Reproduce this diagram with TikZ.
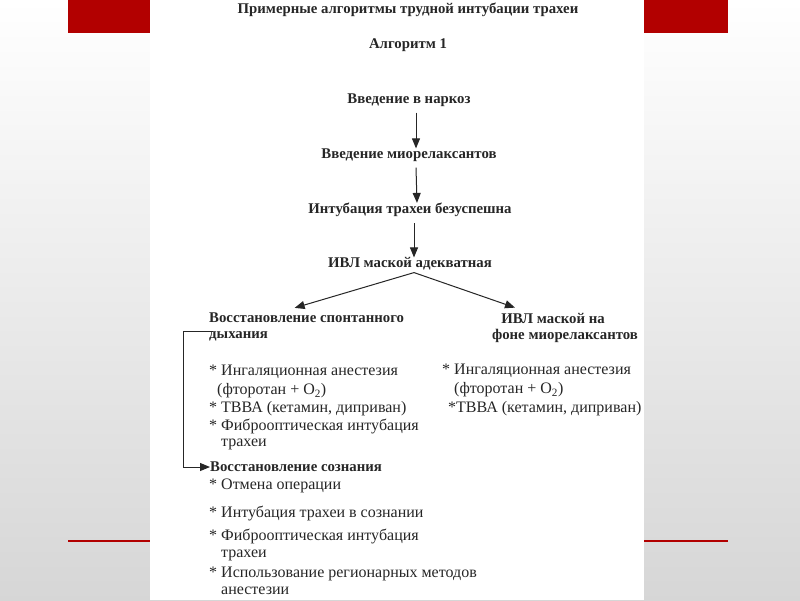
\documentclass[tikz,border=0pt]{standalone}
\usepackage{fontspec}
\setmainfont{Liberation Serif}
\usetikzlibrary{arrows.meta}
\begin{document}
\begin{tikzpicture}[x=1pt,y=-1pt,
  txt/.style={inner sep=0pt, font=\fontsize{16}{18}\selectfont, text=black!85},
  hd/.style={inner sep=0pt, font=\fontsize{14.8}{17}\bfseries\selectfont, text=black!85},
  conn/.style={line width=1pt, draw=black!85, -{Triangle[length=10pt,width=8pt]}},
  plain/.style={line width=1pt, draw=black!85}]
\useasboundingbox (0,0) rectangle (800,600);
\shade[top color=white, bottom color=black!16] (0,0) rectangle (800,600);
\fill[red!70!black] (68,0) rectangle (728,33);
\fill[red!70!black] (68,539.5) rectangle (728,541.5);
\fill[white] (150,0) rectangle (644,600);
% headings
\node[hd] (title) at (408,10) {Примерные алгоритмы трудной интубации трахеи};
\node[hd] (alg) at (408,45) {Алгоритм 1};
\node[hd] (n1) at (409,100) {Введение в наркоз};
\node[hd] (n2) at (409,155) {Введение миорелаксантов};
\node[hd] (n3) at (410,210) {Интубация трахеи безуспешна};
\node[hd] (n4) at (410,264) {ИВЛ маской адекватная};
\node[hd,anchor=west] (l1) at (209,318) {Восстановление спонтанного};
\node[hd,anchor=west] (l2) at (209,336) {дыхания};
\node[hd] (r1) at (553,318) {ИВЛ маской на};
\node[hd] (r2) at (565,336) {фоне миорелаксантов};
% left list
\node[txt,anchor=west] (la) at (209,372) {* Ингаляционная анестезия};
\node[txt,anchor=west] (lb) at (217,391) {(фторотан + O\textsubscript{2})};
\node[txt,anchor=west] (lc) at (209,409) {* ТВВА (кетамин, диприван)};
\node[txt,anchor=west] (ld) at (209,426) {* Фиброоптическая интубация};
\node[txt,anchor=west] (le) at (221,444) {трахеи};
% right list
\node[txt,anchor=west] (ra) at (442,371) {* Ингаляционная анестезия};
\node[txt,anchor=west] (rb) at (454,390) {(фторотан + O\textsubscript{2})};
\node[txt,anchor=west] (rc) at (448,409) {*ТВВА (кетамин, диприван)};
% consciousness
\node[hd,anchor=west] (s0) at (210,467) {Восстановление сознания};
\node[txt,anchor=west] (s1) at (209,486) {* Отмена операции};
\node[txt,anchor=west] (s2) at (209,513) {* Интубация трахеи в сознании};
\node[txt,anchor=west] (s3) at (209,536) {* Фиброоптическая интубация};
\node[txt,anchor=west] (s4) at (221,555) {трахеи};
\node[txt,anchor=west] (s5) at (209,574) {* Использование регионарных методов};
\node[txt,anchor=west] (s6) at (221,591) {анестезии};
% connectors
\draw[conn] ([xshift=7pt,yshift=-6pt]n1.south) -- ([xshift=7pt,yshift=0pt]n2.north);
\draw[conn] ([xshift=7pt,yshift=-6pt]n2.south) -- ([xshift=7pt,yshift=0pt]n3.north);
\draw[conn] ([xshift=4pt,yshift=-6pt]n3.south) -- ([xshift=4pt,yshift=0pt]n4.north);
\coordinate (split) at ([xshift=4pt,yshift=-2pt]n4.south);
\draw[conn] (split) -- ([xshift=-12pt,yshift=5pt]l1.north);
\draw[conn] (split) -- ([xshift=-38pt,yshift=5pt]r1.north);
\draw[conn] ([xshift=4pt]l2.north west) -- ++(-30,0) |- (s0.west);
\end{tikzpicture}
\end{document}
